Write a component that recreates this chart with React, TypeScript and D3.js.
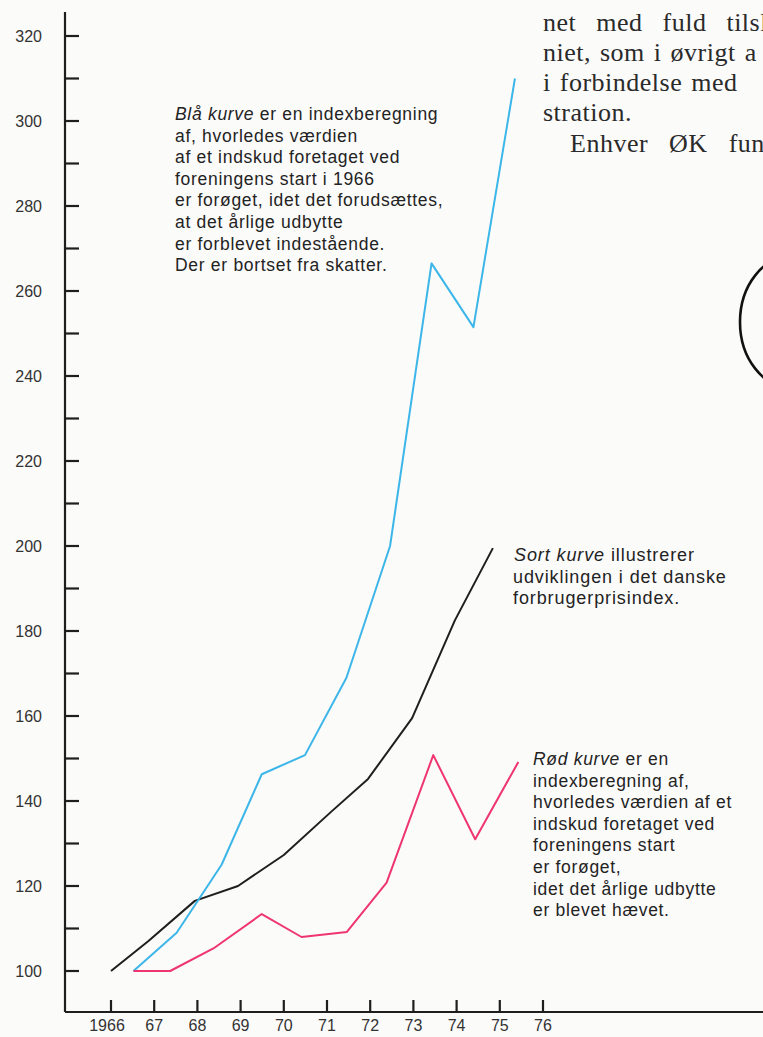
import React from "react";
import * as d3 from "d3";

const W = 763;
const H = 1037;

// x-axis ticks (years) and their printed labels
const yearTicks = [1966, 1967, 1968, 1969, 1970, 1971, 1972, 1973, 1974, 1975, 1976];
const yearLabels = ["1966", "67", "68", "69", "70", "71", "72", "73", "74", "75", "76"];

// y-axis: a tick every 10, a label every 20
const valueTicks = d3.range(100, 321, 10);
const valueLabels = [100, 120, 140, 160, 180, 200, 220, 240, 260, 280, 300, 320];

// Sort kurve (forbrugerprisindex)
const sortYears = [1966, 1966.86, 1967.94, 1968.94, 1970, 1971.1, 1971.95, 1972.97, 1973.96, 1974.84];
const sortValues = [100, 107, 116.5, 120, 127.3, 137.5, 145.2, 159.5, 182.5, 199.5];

// Blå kurve (udbytte forblevet indestående)
const blaaYears = [1966.52, 1967.52, 1968.56, 1969.49, 1970.49, 1971.45, 1972.46, 1973.42, 1974.39, 1975.35];
const blaaValues = [100, 109, 125, 146.3, 150.8, 169, 200, 266.5, 251.5, 310];

// Rød kurve (udbytte hævet)
const roedYears = [1966.52, 1967.37, 1968.37, 1969.49, 1970.41, 1971.46, 1972.38, 1973.46, 1974.43, 1975.43];
const roedValues = [100, 100, 105.3, 113.4, 108, 109.2, 120.8, 150.8, 131, 149.2];

const blaaNote = [
  "af, hvorledes værdien",
  "af et indskud foretaget ved",
  "foreningens start i 1966",
  "er forøget, idet det forudsættes,",
  "at det årlige udbytte",
  "er forblevet indestående.",
  "Der er bortset fra skatter.",
];
const sortNote = ["udviklingen i det danske", "forbrugerprisindex."];
const roedNote = [
  "indexberegning af,",
  "hvorledes værdien af et",
  "indskud foretaget ved",
  "foreningens start",
  "er forøget,",
  "idet det årlige udbytte",
  "er blevet hævet.",
];

// body text of the page, cut off at the right edge as in the scan
const bodyLines = [
  { text: "net med fuld tilslutning", x: 543, y: 31, ws: 13 },
  { text: "niet, som i øvrigt a", x: 543, y: 61, ws: 2 },
  { text: "i forbindelse med", x: 543, y: 91, ws: 2 },
  { text: "stration.", x: 543, y: 121, ws: 0 },
  { text: "Enhver ØK funktionær", x: 570, y: 152, ws: 14 },
];

const x = d3.scaleLinear().domain([1966, 1976]).range([111, 543]);
const y = d3.scaleLinear().domain([100, 320]).range([971, 36]);

const line = d3
  .line<[number, number]>()
  .x((d) => x(d[0]))
  .y((d) => y(d[1]));

const zip = (a: number[], b: number[]) => a.map((v, i) => [v, b[i]] as [number, number]);

const sans = "'Liberation Sans', Arial, Helvetica, sans-serif";
const serif = "'Liberation Serif', 'Times New Roman', serif";
const ink = "#232323";

export default function App() {
  const axisLeft = 65;
  const axisBottom = 1012;

  const noteStyle = { fontFamily: sans, fontSize: 17.5, letterSpacing: 0.7, fill: ink };
  const sortStyle = { ...noteStyle, fontSize: 18, letterSpacing: 0.9 };

  return (
    <svg
      width={W}
      height={H}
      style={{ position: "absolute", left: 0, top: 0, background: "#fbfbfa" }}
    >
      {/* page text */}
      {bodyLines.map((l, i) => (
        <text
          key={i}
          x={l.x}
          y={l.y}
          fontFamily={serif}
          fontSize={26}
          letterSpacing={0.5}
          wordSpacing={l.ws}
          fill="#2a2a2a"
        >
          {l.text}
        </text>
      ))}

      {/* illustration arc at the right */}
      <ellipse cx={792} cy={322} rx={52} ry={66} fill="none" stroke="#111" strokeWidth={2.6} />

      {/* y axis */}
      <line x1={axisLeft} x2={axisLeft} y1={12} y2={axisBottom} stroke="#1e1e1e" strokeWidth={2.2} />
      {valueTicks.map((v) => (
        <line key={v} x1={axisLeft} x2={axisLeft + 14} y1={y(v)} y2={y(v)} stroke="#1e1e1e" strokeWidth={2.2} />
      ))}
      {valueLabels.map((v) => (
        <text
          key={v}
          x={42}
          y={y(v)}
          dy="0.36em"
          textAnchor="end"
          fontFamily={sans}
          fontSize={16}
          fill="#333"
        >
          {v}
        </text>
      ))}

      {/* x axis */}
      <line x1={axisLeft} x2={W} y1={axisBottom} y2={axisBottom} stroke="#1e1e1e" strokeWidth={2.2} />
      {yearTicks.map((t, i) => (
        <g key={t}>
          <line x1={x(t)} x2={x(t)} y1={axisBottom} y2={axisBottom - 12} stroke="#1e1e1e" strokeWidth={2.2} />
          <text
            x={x(t) - (i === 0 ? 4 : 0)}
            y={1031}
            textAnchor="middle"
            fontFamily={sans}
            fontSize={16}
            fill="#333"
          >
            {yearLabels[i]}
          </text>
        </g>
      ))}

      {/* curves */}
      <path d={line(zip(sortYears, sortValues)) ?? ""} fill="none" stroke="#1f1f1f" strokeWidth={2} strokeLinejoin="round" />
      <path d={line(zip(blaaYears, blaaValues)) ?? ""} fill="none" stroke="#3cb6e8" strokeWidth={2} strokeLinejoin="round" />
      <path d={line(zip(roedYears, roedValues)) ?? ""} fill="none" stroke="#ef3571" strokeWidth={2} strokeLinejoin="round" />

      {/* notes */}
      <text x={175} y={120} {...noteStyle}>
        <tspan fontStyle="italic">Blå kurve</tspan> er en indexberegning
      </text>
      {blaaNote.map((t, i) => (
        <text key={i} x={175} y={120 + (i + 1) * 21.6} {...noteStyle}>
          {t}
        </text>
      ))}

      <text x={514} y={561} {...sortStyle}>
        <tspan fontStyle="italic">Sort kurve</tspan> illustrerer
      </text>
      {sortNote.map((t, i) => (
        <text key={i} x={513} y={561 + (i + 1) * 21.6} {...sortStyle}>
          {t}
        </text>
      ))}

      <text x={533} y={765} {...noteStyle}>
        <tspan fontStyle="italic">Rød kurve</tspan> er en
      </text>
      {roedNote.map((t, i) => (
        <text key={i} x={533} y={765 + (i + 1) * 21.6} {...noteStyle}>
          {t}
        </text>
      ))}
    </svg>
  );
}
